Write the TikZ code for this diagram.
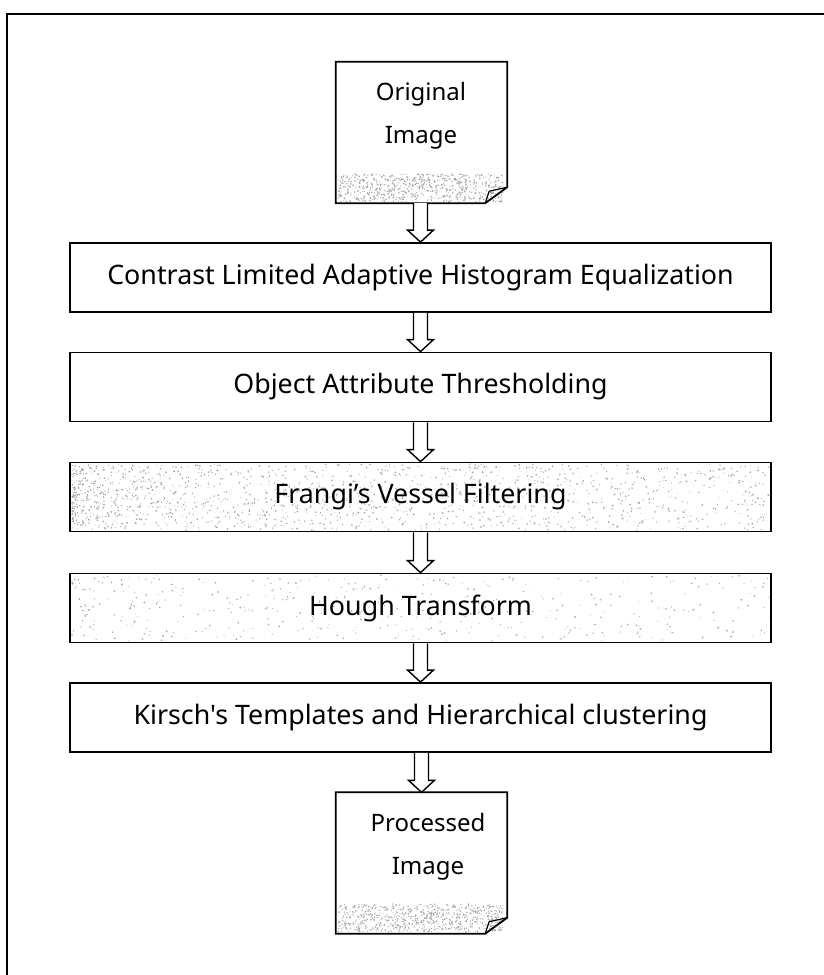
\documentclass[tikz,border=0pt]{standalone}
\usepackage{fontspec}
\newfontfamily\flowfont{Noto Sans}
\usetikzlibrary{calc}
\pgfdeclarelayer{background}
\pgfsetlayers{background,main}
\newcommand\blockarrow[2]{%
  \draw[flowarrow]
    ($(#2.north |- #1.south)+(-7,0)$) --
    ($(#2.north)+(-7,-12)$) --
    ($(#2.north)+(-13,-12)$) --
    (#2.north) --
    ($(#2.north)+(13,-12)$) --
    ($(#2.north)+(7,-12)$) --
    ($(#2.north |- #1.south)+(7,0)$);}
\newcommand\docoutline[1]{%
  \draw[docline]
    (#1.south west) -- (#1.north west) -- (#1.north east) --
    ($(#1.south east)+(0,-16)$) -- ($(#1.south east)+(-22,0)$) -- cycle;
  \draw[docline, line width=1.2pt]
    ($(#1.south east)+(-22,0)$) -- ($(#1.south east)+(-18,-12)$) -- ($(#1.south east)+(0,-16)$);}
\newcommand\speckle[6]{% n, x0, width, y0, height, power
  \foreach \i in {1,...,#1}{%
    \pgfmathsetmacro\rx{#2+#3*(rnd^#6)}%
    \pgfmathsetmacro\ry{#4+#5*rnd}%
    \pgfmathsetmacro\rr{0.4+0.6*rnd}%
    \fill[gray!70] (\rx,\ry) circle (\rr);}}
\begin{document}
\begin{tikzpicture}[x=1pt,y=-1pt,
  procbox/.style={draw, line width=1.8pt, minimum width=701pt, minimum height=69pt,
    inner sep=0pt, font=\flowfont\fontsize{26.8}{30}\selectfont},
  docshape/.style={minimum width=171pt, minimum height=141pt, inner sep=0pt},
  doctext/.style={align=center, inner sep=0pt, font=\flowfont\fontsize{24}{43}\selectfont},
  docline/.style={line width=1.8pt, line join=miter},
  flowarrow/.style={line width=1.4pt, line join=miter, fill=white}]
\useasboundingbox (0,0) rectangle (824,975);
\pgfmathsetseed{11}
% frame
\draw[line width=2pt] (7,975) -- (7,14) -- (824,14);
% documents
\node[docshape] (doc1) at (421.5,132.5) {};
\node[doctext] (t1) at (421,116) {Original\\Image};
\node[docshape] (doc2) at (421.5,863) {};
\node[doctext] (t2) at (428,847) {Processed\\Image};
% process boxes
\node[procbox] (b1) at (420.5,277.5) {Contrast Limited Adaptive Histogram Equalization};
\node[procbox] (b2) at (420.5,387) {Object Attribute Thresholding};
\node[procbox] (b3) at (420.5,497) {Frangi’s Vessel Filtering};
\node[procbox] (b4) at (420.5,608) {Hough Transform};
\node[procbox] (b5) at (420.5,717.5) {Kirsch's Templates and Hierarchical clustering};
% textures
\begin{pgfonlayer}{background}
  \speckle{700}{338}{165}{174}{28}{1}
  \speckle{700}{338}{165}{904}{28}{1}
  \speckle{1300}{72}{697}{464}{66}{1.7}
  \speckle{350}{72}{697}{464}{66}{1}
  \speckle{450}{72}{697}{575}{66}{1.3}
\end{pgfonlayer}
\docoutline{doc1}
\docoutline{doc2}
% arrows
\blockarrow{doc1}{b1}
\blockarrow{b1}{b2}
\blockarrow{b2}{b3}
\blockarrow{b3}{b4}
\blockarrow{b4}{b5}
\blockarrow{b5}{doc2}
\end{tikzpicture}
\end{document}
